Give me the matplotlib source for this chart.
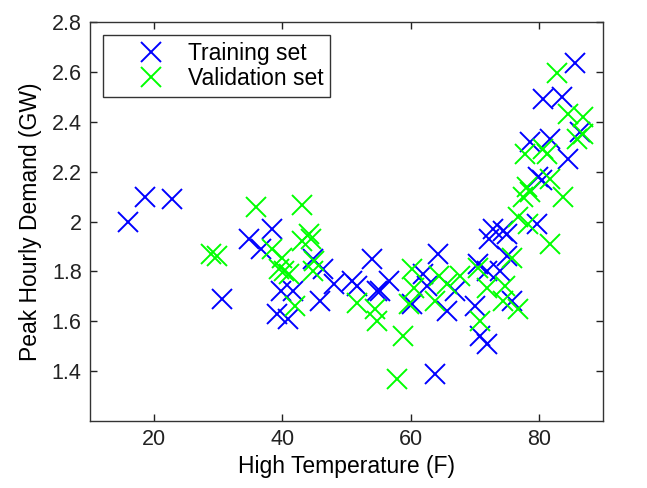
import matplotlib
matplotlib.use("Agg")
import matplotlib.pyplot as plt

train_temp = [16.0, 18.6, 22.8, 30.6, 34.8, 36.7, 38.4, 39.8, 41.7, 39.1, 40.9, 45.8, 48.0, 44.7,
              46.3, 50.9, 51.7, 53.9, 54.7, 55.2, 56.7, 61.9, 62.5, 60.2, 64.2, 65.6, 66.9, 70.0,
              70.5, 71.9, 73.9, 70.8, 71.9, 63.75, 72.8, 74.4, 72.3, 75.0, 75.0, 75.8, 79.7, 79.8,
              80.5, 78.6, 81.7, 80.6, 83.6, 85.6, 84.5, 86.4]
train_demand = [2.00, 2.10, 2.09, 1.69, 1.93, 1.89, 1.97, 1.72, 1.72, 1.63, 1.61, 1.68, 1.75, 1.85,
                1.81, 1.76, 1.74, 1.85, 1.72, 1.72, 1.76, 1.79, 1.74, 1.67, 1.87, 1.64, 1.72, 1.66,
                1.83, 1.80, 1.80, 1.54, 1.51, 1.39, 1.97, 1.96, 1.93, 1.95, 1.86, 1.68, 1.99, 2.18,
                2.165, 2.32, 2.33, 2.49, 2.50, 2.635, 2.25, 2.36]

val_temp = [28.9, 29.8, 35.9, 38.4, 40.0, 39.5, 40.3, 41.0, 43.0, 43.1, 44.2, 44.4, 45.0, 44.7,
            41.9, 51.7, 54.4, 54.8, 58.75, 57.8, 60.2, 60.6, 59.8, 64.5, 65.6, 67.7, 63.75, 70.5,
            71.9, 70.8, 74.7, 74.4, 76.7, 75.8, 76.7, 78.3, 77.5, 78.1, 78.6, 81.7, 83.75, 81.7,
            77.8, 80.6, 81.2, 82.8, 84.5, 86.9, 85.9, 86.9]
val_demand = [1.87, 1.86, 2.06, 1.89, 1.855, 1.81, 1.80, 1.79, 2.065, 1.92, 1.95, 1.93, 1.84, 1.80,
              1.66, 1.675, 1.65, 1.60, 1.54, 1.37, 1.81, 1.735, 1.67, 1.78, 1.75, 1.78, 1.68, 1.815,
              1.735, 1.60, 1.74, 1.68, 1.65, 1.855, 2.02, 1.99, 2.10, 2.14, 2.12, 2.17, 2.10, 1.91,
              2.27, 2.29, 2.27, 2.595, 2.43, 2.42, 2.33, 2.35]

xticks = [20, 40, 60, 80]
yticks = [1.4, 1.6, 1.8, 2.0, 2.2, 2.4, 2.6, 2.8]
ytick_labels = ["1.4", "1.6", "1.8", "2", "2.2", "2.4", "2.6", "2.8"]

plt.rcParams['font.family'] = ['Liberation Sans', 'DejaVu Sans']

fig = plt.figure(figsize=(6.47, 4.88), dpi=100)
ax = fig.add_axes([90/647, 1 - 421/488, (603-90)/647, (421-22)/488])

ax.plot(train_temp, train_demand, linestyle='none', marker='x', color=(0, 0, 1),
        ms=14, mew=1.4, label='Training set')
ax.plot(val_temp, val_demand, linestyle='none', marker='x', color=(0, 1, 0),
        ms=14, mew=1.4, label='Validation set')

ax.set_xlim(10, 90)
ax.set_ylim(1.2, 2.8)
ax.set_xticks(xticks)
ax.set_xticklabels([str(t) for t in xticks])
ax.set_yticks(yticks)
ax.set_yticklabels(ytick_labels)
ax.tick_params(direction='in', length=5, width=1, labelsize=15.5, colors='#222222',
               top=True, right=True, pad=6)
for s in ax.spines.values():
    s.set_linewidth(1.0)
    s.set_color('#333333')

ax.set_xlabel('High Temperature (F)', fontsize=16.5, labelpad=3)
ax.set_ylabel('Peak Hourly Demand (GW)', fontsize=16.5, labelpad=7)

leg = ax.legend(loc='upper left', fancybox=False, edgecolor='#333333', framealpha=1,
                fontsize=16.5, borderaxespad=0.57, handlelength=3.6, handletextpad=-0.2,
                borderpad=0.3, labelspacing=0.1)
leg.get_frame().set_linewidth(1.0)

fig.savefig('out.png', dpi=100)
